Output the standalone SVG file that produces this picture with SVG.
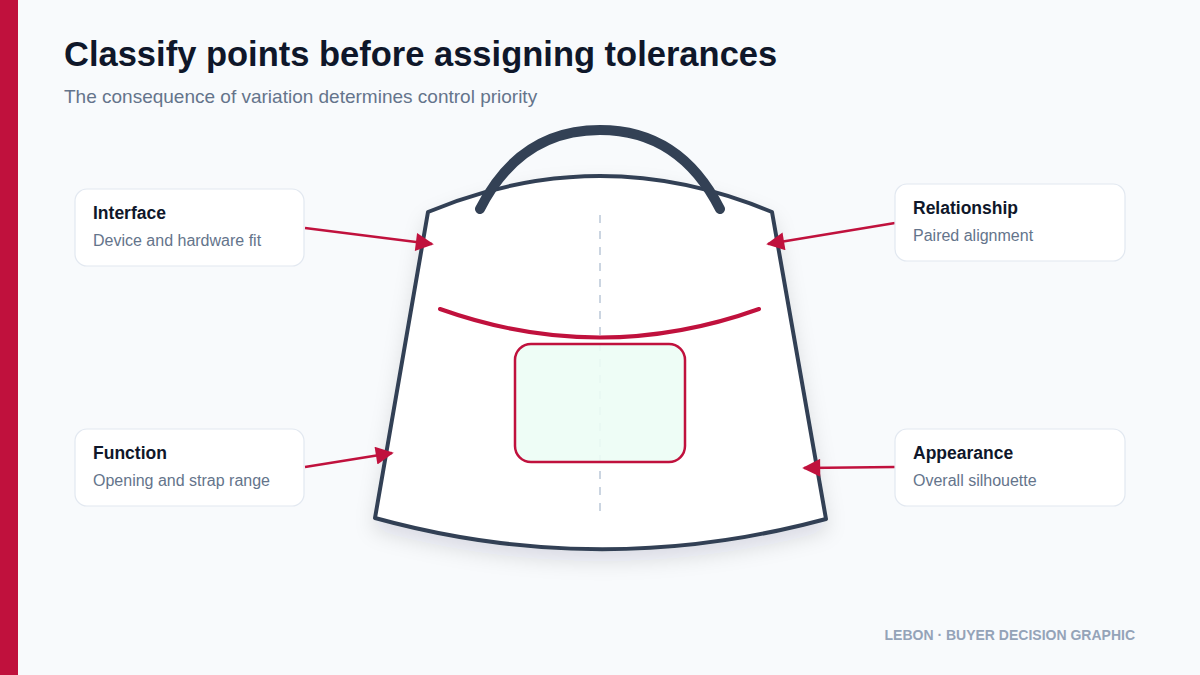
<svg xmlns="http://www.w3.org/2000/svg" width="1200" height="675" viewBox="0 0 1200 675">
<defs>
<style>
.card{fill:#fff;stroke:#e2e8f0;stroke-width:1.2}
.t{font-family:"Liberation Sans",Arial,sans-serif;font-size:17.5px;font-weight:bold;fill:#0f172a}
.s{font-family:"Liberation Sans",Arial,sans-serif;font-size:16px;fill:#64748b}
</style>
<marker id="ah2" viewBox="0 0 10 10" refX="9" refY="5" markerWidth="26" markerHeight="18" markerUnits="userSpaceOnUse" orient="auto"><path d="M0,0L10,5L0,10z" fill="#c0113d"/></marker>
<filter id="sh" x="-20%" y="-20%" width="140%" height="150%"><feDropShadow dx="0" dy="10" stdDeviation="10" flood-color="#0f172a" flood-opacity="0.12"/></filter>
</defs>
<rect width="1200" height="675" fill="#f8fafc"/>
<rect x="0" y="0" width="18" height="675" fill="#c0113d"/>
<text x="64" y="66" font-family="Liberation Sans,Arial,sans-serif" font-size="34.5" font-weight="bold" fill="#0f172a">Classify points before assigning tolerances</text>
<text x="64" y="103" font-family="Liberation Sans,Arial,sans-serif" font-size="19" fill="#64748b">The consequence of variation determines control priority</text>
<g id="bag">
<path d="M428,212 Q600,140 772,212 L826,519 Q600,580 375,518 Z" fill="#fff" stroke="#334155" stroke-width="4" stroke-linejoin="round" filter="url(#sh)"/>
<path d="M480,209 Q520,130 600,130 Q680,130 720,209" fill="none" stroke="#334155" stroke-width="10" stroke-linecap="round"/>
<line x1="600" y1="215" x2="600" y2="518" stroke="#cbd5e1" stroke-width="2" stroke-dasharray="8,8"/>
<path d="M440,309 Q600,366 759,309" fill="none" stroke="#c0113d" stroke-width="4" stroke-linecap="round"/>
<rect x="515" y="344" width="170" height="118" rx="16" fill="#ecfdf5" fill-opacity="0.9" stroke="#c0113d" stroke-width="2.5"/>
</g>
<g id="connectors">
<line x1="305" y1="228" x2="432" y2="244" stroke="#c0113d" stroke-width="2.5" marker-end="url(#ah2)"/>
<line x1="895" y1="223" x2="768" y2="244" stroke="#c0113d" stroke-width="2.5" marker-end="url(#ah2)"/>
<line x1="305" y1="467" x2="392" y2="453" stroke="#c0113d" stroke-width="2.5" marker-end="url(#ah2)"/>
<line x1="895" y1="467" x2="804" y2="468" stroke="#c0113d" stroke-width="2.5" marker-end="url(#ah2)"/>
</g>
<g id="interface"><rect class="card" x="75" y="189" width="229" height="77" rx="12"/><text class="t" x="93" y="219">Interface</text><text class="s" x="93" y="246">Device and hardware fit</text></g>
<g id="relationship"><rect class="card" x="895" y="184" width="230" height="77" rx="12"/><text class="t" x="913" y="214">Relationship</text><text class="s" x="913" y="241">Paired alignment</text></g>
<g id="function"><rect class="card" x="75" y="429" width="229" height="77" rx="12"/><text class="t" x="93" y="459">Function</text><text class="s" x="93" y="486">Opening and strap range</text></g>
<g id="appearance"><rect class="card" x="895" y="429" width="230" height="77" rx="12"/><text class="t" x="913" y="459">Appearance</text><text class="s" x="913" y="486">Overall silhouette</text></g>
<text x="1135" y="640" text-anchor="end" font-family="Liberation Sans,Arial,sans-serif" font-size="14" font-weight="bold" fill="#94a3b8">LEBON · BUYER DECISION GRAPHIC</text>
</svg>
